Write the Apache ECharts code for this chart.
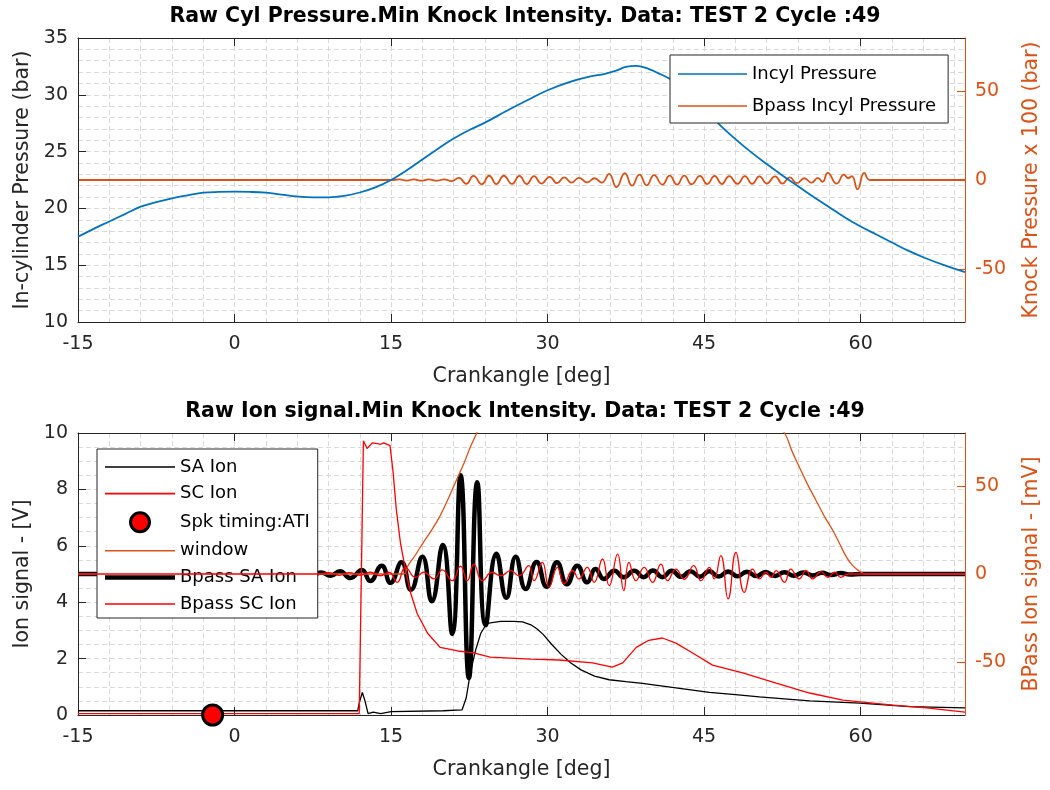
<!DOCTYPE html>
<html>
<head>
<meta charset="utf-8">
<title>Raw Cyl Pressure / Raw Ion signal - TEST 2 Cycle 49</title>
<script src="https://cdn.jsdelivr.net/npm/echarts@6/dist/echarts.min.js"></script>
<style>
  html, body { margin: 0; padding: 0; background: #fff; }
  #chart { width: 1050px; height: 790px; }
</style>
</head>
<body>
<div id="chart"></div>
<script>
// ---- data (crank angle in deg) ----

// top panel, left axis: in-cylinder pressure [bar]
const incylPressure = [
  [-15, 17.5], [-13.5, 18.2], [-12, 18.85], [-10.5, 19.5], [-9, 20.15], [-7.5, 20.55],
  [-6, 20.89], [-4.5, 21.15], [-3, 21.38], [-1.5, 21.45], [0, 21.47], [1.5, 21.45],
  [3, 21.38], [4.5, 21.22], [6, 21.05], [7.5, 20.97], [9, 20.97], [10.5, 21.1],
  [12, 21.4], [13.5, 21.85], [15, 22.5], [16.5, 23.35], [18, 24.3], [19.5, 25.25],
  [21, 26.15], [22.5, 26.9], [24, 27.55], [26, 28.55], [28, 29.5], [30, 30.4],
  [32, 31.1], [34, 31.6], [35.5, 31.85], [36.5, 32.1], [37.5, 32.45], [38.5, 32.55],
  [39.5, 32.35], [40.5, 31.95], [42, 31.25], [43.5, 30.2], [45, 28.8], [46.5, 27.35],
  [48, 26.1], [49.5, 24.95], [51, 23.9], [52.5, 22.9], [54, 21.95], [55.5, 21.0],
  [57, 20.1], [58.5, 19.2], [60, 18.4], [61.5, 17.7], [63, 17.0], [64.5, 16.3],
  [66, 15.7], [68, 15.0], [70, 14.4]
];

// top panel, right axis: band-passed pressure x 100 [bar]
const bpassIncylPressure = [
  [-15, 0], [15, 0], [15.8, 0.3], [16.5, -0.3], [17.2, 0.3], [17.9, -0.4], [18.6, 0.3],
  [19.4, -0.4], [20.1, 0.4], [20.8, -0.6], [21.5, 1.2], [22.2, -2.2], [22.9, 2.3],
  [23.7, -2.4], [24.4, 2.4], [25.1, -2.3], [25.8, 2.4], [26.6, -2.2], [27.3, 2.3],
  [28.0, -2.3], [28.7, 2.2], [29.4, -2.0], [30.2, 1.8], [30.9, -1.8], [31.6, 1.5],
  [32.3, -1.5], [33.0, 1.2], [33.8, -1.3], [34.5, 1.0], [35.2, -1.5], [35.9, 3.5],
  [36.6, -4.0], [37.4, 3.8], [38.1, -3.2], [38.8, 3.0], [39.5, -3.0], [40.2, 2.8],
  [41.0, -2.6], [41.7, 2.5], [42.4, -2.6], [43.1, 2.5], [43.8, -2.4], [44.6, 2.3],
  [45.3, -2.3], [46.0, 2.3], [46.7, -2.3], [47.4, 2.2], [48.2, -2.2], [48.9, 2.2],
  [49.6, -2.2], [50.3, 2.0], [51.0, -2.0], [51.8, 2.0], [52.5, -2.0], [53.2, 1.5],
  [53.9, -1.8], [54.6, 1.0], [55.3, -1.5], [55.9, 1.2], [56.35, -1.0], [56.85, 4.0],
  [57.7, -2.0], [58.4, 3.0], [58.8, 1.0], [59.15, 2.2], [59.7, -5.2], [60.35, 4.0],
  [60.9, 0], [70, 0]
];

// bottom panel, left axis: raw ion signals [V]
const saIon = [
  [-15, 0.15], [11.8, 0.15], [12.0, 0.5], [12.25, 0.8], [12.5, 0.5], [12.8, 0.05],
  [13.3, 0.1], [14, 0.05], [15, 0.12], [20, 0.15], [21.8, 0.18], [22.2, 0.6],
  [22.6, 1.5], [23.1, 2.3], [23.6, 2.9], [24.1, 3.2], [24.5, 3.27], [25.5, 3.32],
  [26.7, 3.32], [27.6, 3.3], [28.4, 3.2], [29.0, 3.05], [29.6, 2.85], [30.4, 2.5],
  [31.3, 2.15], [32.2, 1.85], [33.2, 1.6], [34.5, 1.38], [35.9, 1.25], [37.5, 1.18],
  [39.1, 1.12], [40.5, 1.05], [42.3, 0.96], [45.5, 0.8], [48, 0.72], [50.3, 0.64],
  [55.1, 0.5], [59.9, 0.42], [64.7, 0.3], [70, 0.25]
];

const scIon = [
  [-15, 0.05], [11.95, 0.05], [12.35, 9.72], [12.7, 9.45], [13.2, 9.65], [13.7, 9.62],
  [14.0, 9.6], [14.3, 9.65], [14.9, 9.55], [15.2, 8.6], [15.5, 7.3], [15.9, 6.1],
  [16.4, 5.1], [16.9, 4.3], [17.5, 3.6], [18.5, 2.9], [19.7, 2.4], [21.4, 2.27],
  [22.9, 2.2], [24.5, 2.05], [28.4, 1.98], [31.1, 1.95], [34.3, 1.85], [36.2, 1.7],
  [37.2, 1.85], [38.5, 2.4], [39.7, 2.65], [41.0, 2.73], [42.3, 2.55], [43.9, 2.2],
  [45.8, 1.77], [48.7, 1.49], [51.9, 1.13], [55.1, 0.78], [58.3, 0.53], [63.1, 0.35],
  [66.3, 0.25], [70, 0.1]
];

const sparkTiming = [[-2.1, 0]];

// bottom panel, right axis: knock window and band-passed ion signals [mV]
const knockWindow = [
  [-15, 0], [16.2, 0], [16.6, 4.5], [17.3, 10.5], [18.1, 18], [18.9, 25], [19.7, 33],
  [20.5, 43], [21.4, 55], [22.0, 63], [22.6, 72], [23.3, 81], [24, 89], [26, 105],
  [30, 125], [38, 135], [46, 125], [50, 100], [52.7, 80], [53.4, 70], [54.1, 61],
  [54.9, 51], [55.7, 42], [56.5, 33], [57.4, 24], [58.0, 17], [58.6, 10], [59.2, 5],
  [59.9, 1.5], [60.5, 0], [70, 0]
];

const bpassSaIon = [
  [-15, 0], [7.6, 0], [8.3, 0.8], [9.2, -1.0], [10.1, 1.5], [11.1, -2.3], [12.2, 2.3],
  [13.0, -4.0], [14.1, 4.7], [14.95, -5.0], [16.0, 6.6], [16.9, -9.0], [18.0, 9.8],
  [18.9, -15.5], [19.95, 16.5], [20.86, -34], [21.66, 56], [22.46, -59], [23.26, 52],
  [24.06, -29], [25.1, 11.5], [26.05, -13.5], [26.95, 9.8], [27.9, -8.5], [28.95, 6.8],
  [29.9, -7.2], [30.9, 6.6], [31.85, -5.8], [32.85, 4.7], [33.8, -4.7], [34.6, 2.8],
  [35.4, -2.8], [36.4, 1.9], [37.3, -1.9], [38.3, 1.8], [39.2, -1.8], [40.1, 2.0],
  [41.0, -1.8], [41.9, 1.8], [42.8, -1.6], [43.7, 1.6], [44.6, -1.5], [45.5, 1.5],
  [46.4, -1.4], [47.3, 1.4], [48.2, -1.3], [49.1, 1.3], [50.0, -1.2], [50.9, 1.2],
  [51.8, -1.1], [52.7, 1.0], [53.6, -1.0], [54.5, 0.9], [55.4, -0.8], [56.3, 0.7],
  [57.2, -0.6], [58.1, 0.5], [59.0, -0.3], [60.0, 0], [70, 0]
];

const bpassScIon = [
  [-15, 0], [8, 0], [9, 0.8], [10, -0.8], [11, 0.8], [12, -0.8], [13, 1.0], [14, -1.0],
  [14.8, 1.0], [15.58, -4.7], [16.38, 3.8], [17.34, -1.9], [18.14, 1.0], [19.1, -2.8],
  [19.9, 2.3], [20.86, -3.8], [21.66, 4.5], [22.3, -3.8], [22.94, 5.6], [23.74, -3.8],
  [24.7, 1.0], [25.5, -1.0], [26.46, 1.9], [27.26, -1.0], [28.2, 4.7], [28.7, -3.8],
  [29.5, 6.6], [30.14, -7.5], [30.94, 3.8], [31.58, -5.6], [32.4, 2.0], [33.0, -2.8],
  [33.8, 3.8], [34.46, -4.7], [35.26, 8.5], [35.9, -6.6], [36.7, 11.3], [37.3, -9.4],
  [37.8, 6.6], [38.46, -3.8], [39.25, 3.8], [40.06, -4.7], [40.86, 5.6], [41.5, -3.8],
  [42.3, 2.8], [43.1, -3.0], [44.0, 4.7], [44.7, -3.8], [45.5, 3.8], [45.96, -2.8],
  [46.6, 10.4], [47.3, -14.1], [48.05, 12.2], [48.85, -10.4], [49.65, 2.8], [50.3, -2.8],
  [50.93, 1.0], [51.4, -1.9], [51.9, 1.9], [52.7, -4.7], [53.3, 2.8], [54.1, -2.8],
  [54.77, 1.9], [55.4, -2.8], [56.2, 1.3], [56.85, -1.9], [57.5, 1.0], [58.1, -1.9],
  [58.8, 0], [70, 0]
];

// tick labels
const crankTicks = [-15, 0, 15, 30, 45, 60];
const rightTicks = [-50, 0, 50];

// ---- styling ----
const FONT = 'DejaVu Sans';
const INK = '#262626';
const BLUE = '#0072BD';
const ORANGE = '#D95319';
const RED = '#FF0000';
const gridLine = { color: '#d9d9d9', type: [5, 3], width: 1 };

// plain line icons for the legends (a line series would otherwise get a dot)
const thinIcon = 'path://M0,0H70V1.6H0Z';
const thickIcon = 'path://M0,0H70V4.5H0Z';

// x axes for one panel: labelled bottom axis, top border, and a bare one for the 3 deg grid
let panelXAxes = (g) => [
  {
    type: 'value', gridIndex: g, position: 'bottom', min: -15, max: 70, interval: 15, z: 3,
    axisLine: { show: true, onZero: false, lineStyle: { color: INK, width: 1 } },
    axisTick: { show: true, inside: true, length: 8, customValues: crankTicks, lineStyle: { color: INK } },
    axisLabel: { customValues: crankTicks, color: INK, fontFamily: FONT, fontSize: 19, margin: 13 },
    splitLine: { show: false },
    name: 'Crankangle [deg]', nameLocation: 'middle', nameGap: 44,
    nameTextStyle: { color: INK, fontFamily: FONT, fontSize: 20.5 }
  },
  {
    type: 'value', gridIndex: g, position: 'top', min: -15, max: 70, interval: 15, z: 3,
    axisLine: { show: true, onZero: false, lineStyle: { color: INK, width: 1 } },
    axisTick: { show: true, inside: true, length: 8, customValues: crankTicks, lineStyle: { color: INK } },
    axisLabel: { show: false },
    splitLine: { show: false }
  },
  {
    type: 'value', gridIndex: g, position: 'bottom', min: -15, max: 70, interval: 3, z: 0,
    axisLine: { show: false, onZero: false }, axisTick: { show: false }, axisLabel: { show: false },
    splitLine: { show: true, lineStyle: gridLine }
  }
];

// y axes for one panel: left value axis, orange right axis, bare one for the minor grid
let panelYAxes = (g, left, right) => [
  {
    type: 'value', gridIndex: g, position: 'left', min: left.min, max: left.max, interval: left.step, z: 3,
    axisLine: { show: true, onZero: false, lineStyle: { color: INK, width: 1 } },
    axisTick: { show: true, inside: true, length: 8, lineStyle: { color: INK } },
    axisLabel: { color: INK, fontFamily: FONT, fontSize: 19, margin: 10 },
    splitLine: { show: false },
    name: left.name, nameLocation: 'middle', nameRotate: 90, nameGap: 44,
    nameTextStyle: { color: INK, fontFamily: FONT, fontSize: 20.5 }
  },
  {
    type: 'value', gridIndex: g, position: 'right', min: -80, max: 80, z: 3,
    axisLine: { show: true, onZero: false, lineStyle: { color: ORANGE, width: 1 } },
    axisTick: { show: true, inside: true, length: 8, customValues: rightTicks, lineStyle: { color: ORANGE } },
    axisLabel: { customValues: rightTicks, color: ORANGE, fontFamily: FONT, fontSize: 19, margin: 10 },
    splitLine: { show: false },
    name: right.name, nameLocation: 'middle', nameRotate: 90, nameGap: 56,
    nameTextStyle: { color: ORANGE, fontFamily: FONT, fontSize: 20.5 }
  },
  {
    type: 'value', gridIndex: g, position: 'left', min: left.min, max: left.max, interval: left.minor, z: 0,
    axisLine: { show: false, onZero: false }, axisTick: { show: false }, axisLabel: { show: false },
    splitLine: { show: true, lineStyle: gridLine }
  }
];

let lineSeries = (name, data, xi, yi, color, width, z, smooth) => ({
  name: name, type: 'line', data: data, xAxisIndex: xi, yAxisIndex: yi, z: z,
  symbol: 'none', smooth: smooth,
  lineStyle: { color: color, width: width }, itemStyle: { color: color }
});

let lineLegend = (name, icon) => ({ name: name, icon: icon, itemStyle: { borderWidth: 0 } });

const option = {
  animation: false,
  backgroundColor: '#fff',
  title: [
    {
      text: 'Raw Cyl Pressure.Min Knock Intensity. Data: TEST 2 Cycle :49',
      left: 'center', top: 6, padding: 0,
      textStyle: { fontFamily: FONT, fontSize: 20.5, fontWeight: 'bold', color: '#000' }
    },
    {
      text: 'Raw Ion signal.Min Knock Intensity. Data: TEST 2 Cycle :49',
      left: 'center', top: 401, padding: 0,
      textStyle: { fontFamily: FONT, fontSize: 20.5, fontWeight: 'bold', color: '#000' }
    }
  ],
  legend: [
    {
      orient: 'vertical', left: 670, top: 55, padding: [10, 12, 8, 8],
      itemWidth: 69, itemHeight: 14, itemGap: 14,
      borderColor: INK, borderWidth: 1, backgroundColor: '#fff', selectedMode: false,
      textStyle: { fontFamily: FONT, fontSize: 18, color: '#000' },
      data: [lineLegend('Incyl Pressure', thinIcon), lineLegend('Bpass Incyl Pressure', thinIcon)]
    },
    {
      orient: 'vertical', left: 97, top: 449, padding: [9, 8, 5, 8],
      itemWidth: 70, itemHeight: 19, itemGap: 8.6,
      borderColor: INK, borderWidth: 1, backgroundColor: '#fff', selectedMode: false,
      textStyle: { fontFamily: FONT, fontSize: 18, color: '#000' },
      data: [
        lineLegend('SA Ion', thinIcon),
        lineLegend('SC Ion', thinIcon),
        { name: 'Spk timing:ATI', icon: 'circle', itemStyle: { color: RED, borderColor: '#000', borderWidth: 3 } },
        lineLegend('window', thinIcon),
        lineLegend('Bpass SA Ion', thickIcon),
        lineLegend('Bpass SC Ion', thinIcon)
      ]
    }
  ],
  grid: [
    { left: 78, right: 83, top: 38, height: 284 },
    { left: 78, right: 83, top: 433, height: 282 }
  ],
  xAxis: [...panelXAxes(0), ...panelXAxes(1)],
  yAxis: [
    ...panelYAxes(0, { min: 10, max: 35, step: 5, minor: 1, name: 'In-cylinder Pressure (bar)' },
      { name: 'Knock Pressure x 100 (bar)' }),
    ...panelYAxes(1, { min: 0, max: 10, step: 2, minor: 0.5, name: 'Ion signal - [V]' },
      { name: 'BPass Ion signal - [mV]' })
  ],
  series: [
    // top panel
    lineSeries('Bpass Incyl Pressure', bpassIncylPressure, 0, 1, ORANGE, 1.8, 2, 0.5),
    lineSeries('Incyl Pressure', incylPressure, 0, 0, BLUE, 1.8, 3, 0.4),
    // bottom panel
    lineSeries('Bpass SA Ion', bpassSaIon, 3, 4, '#000', 4.5, 2, 0.5),
    lineSeries('window', knockWindow, 3, 4, ORANGE, 1.3, 3, 0.4),
    lineSeries('Bpass SC Ion', bpassScIon, 3, 4, RED, 1.3, 4, 0.5),
    lineSeries('SA Ion', saIon, 3, 3, '#000', 1.3, 5, false),
    lineSeries('SC Ion', scIon, 3, 3, RED, 1.3, 6, false),
    {
      name: 'Spk timing:ATI', type: 'scatter', data: sparkTiming, xAxisIndex: 3, yAxisIndex: 3,
      z: 7, clip: false, symbol: 'circle', symbolSize: 20,
      itemStyle: { color: RED, borderColor: '#000', borderWidth: 3, opacity: 1 }
    }
  ]
};

const chart = echarts.init(document.getElementById('chart'), null, { renderer: 'canvas' });
chart.setOption(option);
</script>
</body>
</html>
